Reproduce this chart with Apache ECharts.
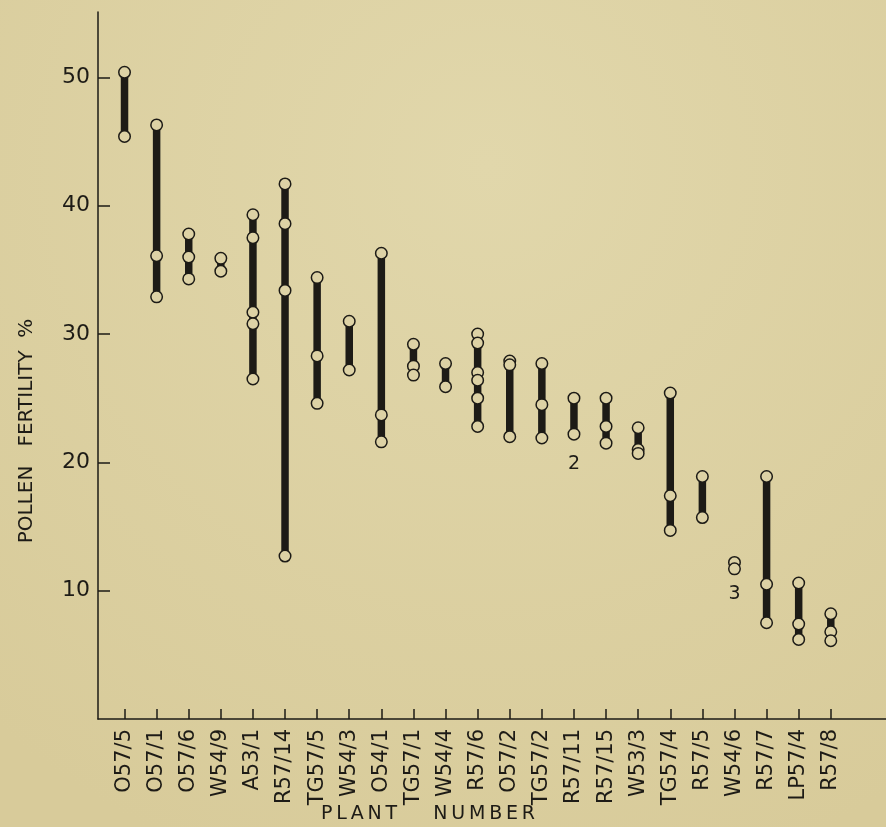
<!DOCTYPE html>
<html>
<head>
<meta charset="utf-8">
<script src="https://cdn.jsdelivr.net/npm/echarts@6/dist/echarts.min.js"></script>
<style>
html,body{margin:0;padding:0;background:#ddd2a5;}
#chart{width:886px;height:827px;}
</style>
</head>
<body>
<div id="chart"></div>
<script>
// Plant numbers (x categories)
const categories = ['O57/5','O57/1','O57/6','W54/9','A53/1','R57/14','TG57/5','W54/3','O54/1','TG57/1','W54/4','R57/6','O57/2','TG57/2','R57/11','R57/15','W53/3','TG57/4','R57/5','W54/6','R57/7','LP57/4','R57/8'];
// Pollen fertility % readings per plant
const fertility = [
  [50.4, 45.4],
  [46.3, 36.1, 32.9],
  [37.8, 36.0, 34.3],
  [35.9, 34.9],
  [39.3, 37.5, 31.7, 30.8, 26.5],
  [41.7, 38.6, 33.4, 12.7],
  [34.4, 28.3, 24.6],
  [31.0, 27.2],
  [36.3, 23.7, 21.6],
  [29.2, 27.5, 26.8],
  [27.7, 25.9],
  [30.0, 29.3, 27.0, 26.4, 25.0, 22.8],
  [27.9, 27.6, 22.0],
  [27.7, 24.5, 21.9],
  [25.0, 22.2],
  [25.0, 22.8, 21.5],
  [22.7, 21.0, 20.7],
  [25.4, 17.4, 14.7],
  [18.9, 15.7],
  [12.2, 11.7],
  [18.9, 10.5, 7.5],
  [10.6, 7.4, 6.2],
  [8.2, 6.8, 6.1]
];
// Y tick labels
const yTicks = [10, 20, 30, 40, 50];
// Annotation counts under some plants
const noteIndex = [14, 19];
const noteValue = [19.9, 9.7];
const noteText = ['2', '3'];

const BG = '#ddd2a5';
const INK = '#1d1b16';
const FONT = 'DejaVu Sans';
const TS = '\u2009';

const rangeData = fertility.map((vals, i) => [i, Math.min(...vals), Math.max(...vals)]);
const pointData = [];
fertility.forEach((vals, i) => vals.forEach(v => pointData.push([i, v])));
const noteData = noteIndex.map((ix, k) => ({value: [ix, noteValue[k]], name: noteText[k]}));
const xTickVals = categories.map((c, i) => i);
const spaced = s => s.split('').join(TS);

const chart = echarts.init(document.getElementById('chart'));
chart.setOption({
  backgroundColor: new echarts.graphic.RadialGradient(0.55, 0.2, 0.9, [
    {offset: 0, color: '#e1d7ab'},
    {offset: 1, color: '#d8cb9a'}
  ]),
  animation: false,
  grid: {left: 98, right: 0, top: 12, bottom: 108, containLabel: false},
  xAxis: {
    type: 'value', min: -0.826, max: 23.72,
    axisLine: {show: true, onZero: false, lineStyle: {color: INK, width: 1.5}},
    axisTick: {show: true, inside: true, length: 10, customValues: xTickVals, lineStyle: {color: INK, width: 1.5}},
    axisLabel: {
      show: true, rotate: 90, margin: 10, customValues: xTickVals,
      formatter: v => categories[Math.round(v)] || '',
      fontFamily: FONT, fontSize: 21, color: INK
    },
    splitLine: {show: false}
  },
  yAxis: {
    type: 'value', min: 0, max: 55.1,
    axisLine: {show: true, onZero: false, lineStyle: {color: INK, width: 1.5}},
    axisTick: {show: true, inside: true, length: 12, customValues: yTicks, lineStyle: {color: INK, width: 1.5}},
    axisLabel: {show: true, margin: 8, customValues: yTicks, fontFamily: FONT, fontSize: 22, color: INK},
    splitLine: {show: false}
  },
  graphic: [
    {type: 'text', left: 321, top: 805, style: {text: spaced('PLANT') + '      ' + spaced('NUMBER'), font: '19px "DejaVu Sans"', fill: INK}},
    {type: 'text', x: 27, y: 431, rotation: Math.PI / 2,
     style: {text: 'POLLEN   FERTILITY  %', font: '20px "DejaVu Sans"', fill: INK, align: 'center', verticalAlign: 'middle'}}
  ],
  series: [
    {
      type: 'custom',
      data: rangeData,
      encode: {x: 0, y: [1, 2]},
      renderItem: function (params, api) {
        const x = api.value(0);
        const top = api.coord([x, api.value(2)]);
        const bot = api.coord([x, api.value(1)]);
        return {type: 'rect', shape: {x: top[0] - 3.75, y: top[1], width: 7.5, height: bot[1] - top[1]}, style: {fill: INK}};
      },
      z: 2
    },
    {
      type: 'scatter',
      data: pointData,
      symbol: 'circle',
      symbolSize: 11.5,
      itemStyle: {color: BG, borderColor: INK, borderWidth: 1.5, opacity: 1},
      z: 3
    },
    {
      type: 'scatter',
      data: noteData,
      symbolSize: 0,
      itemStyle: {opacity: 1},
      label: {show: true, position: 'inside', formatter: p => p.name, fontFamily: FONT, fontSize: 19, color: INK, opacity: 1},
      z: 4
    }
  ]
});
</script>
</body>
</html>
